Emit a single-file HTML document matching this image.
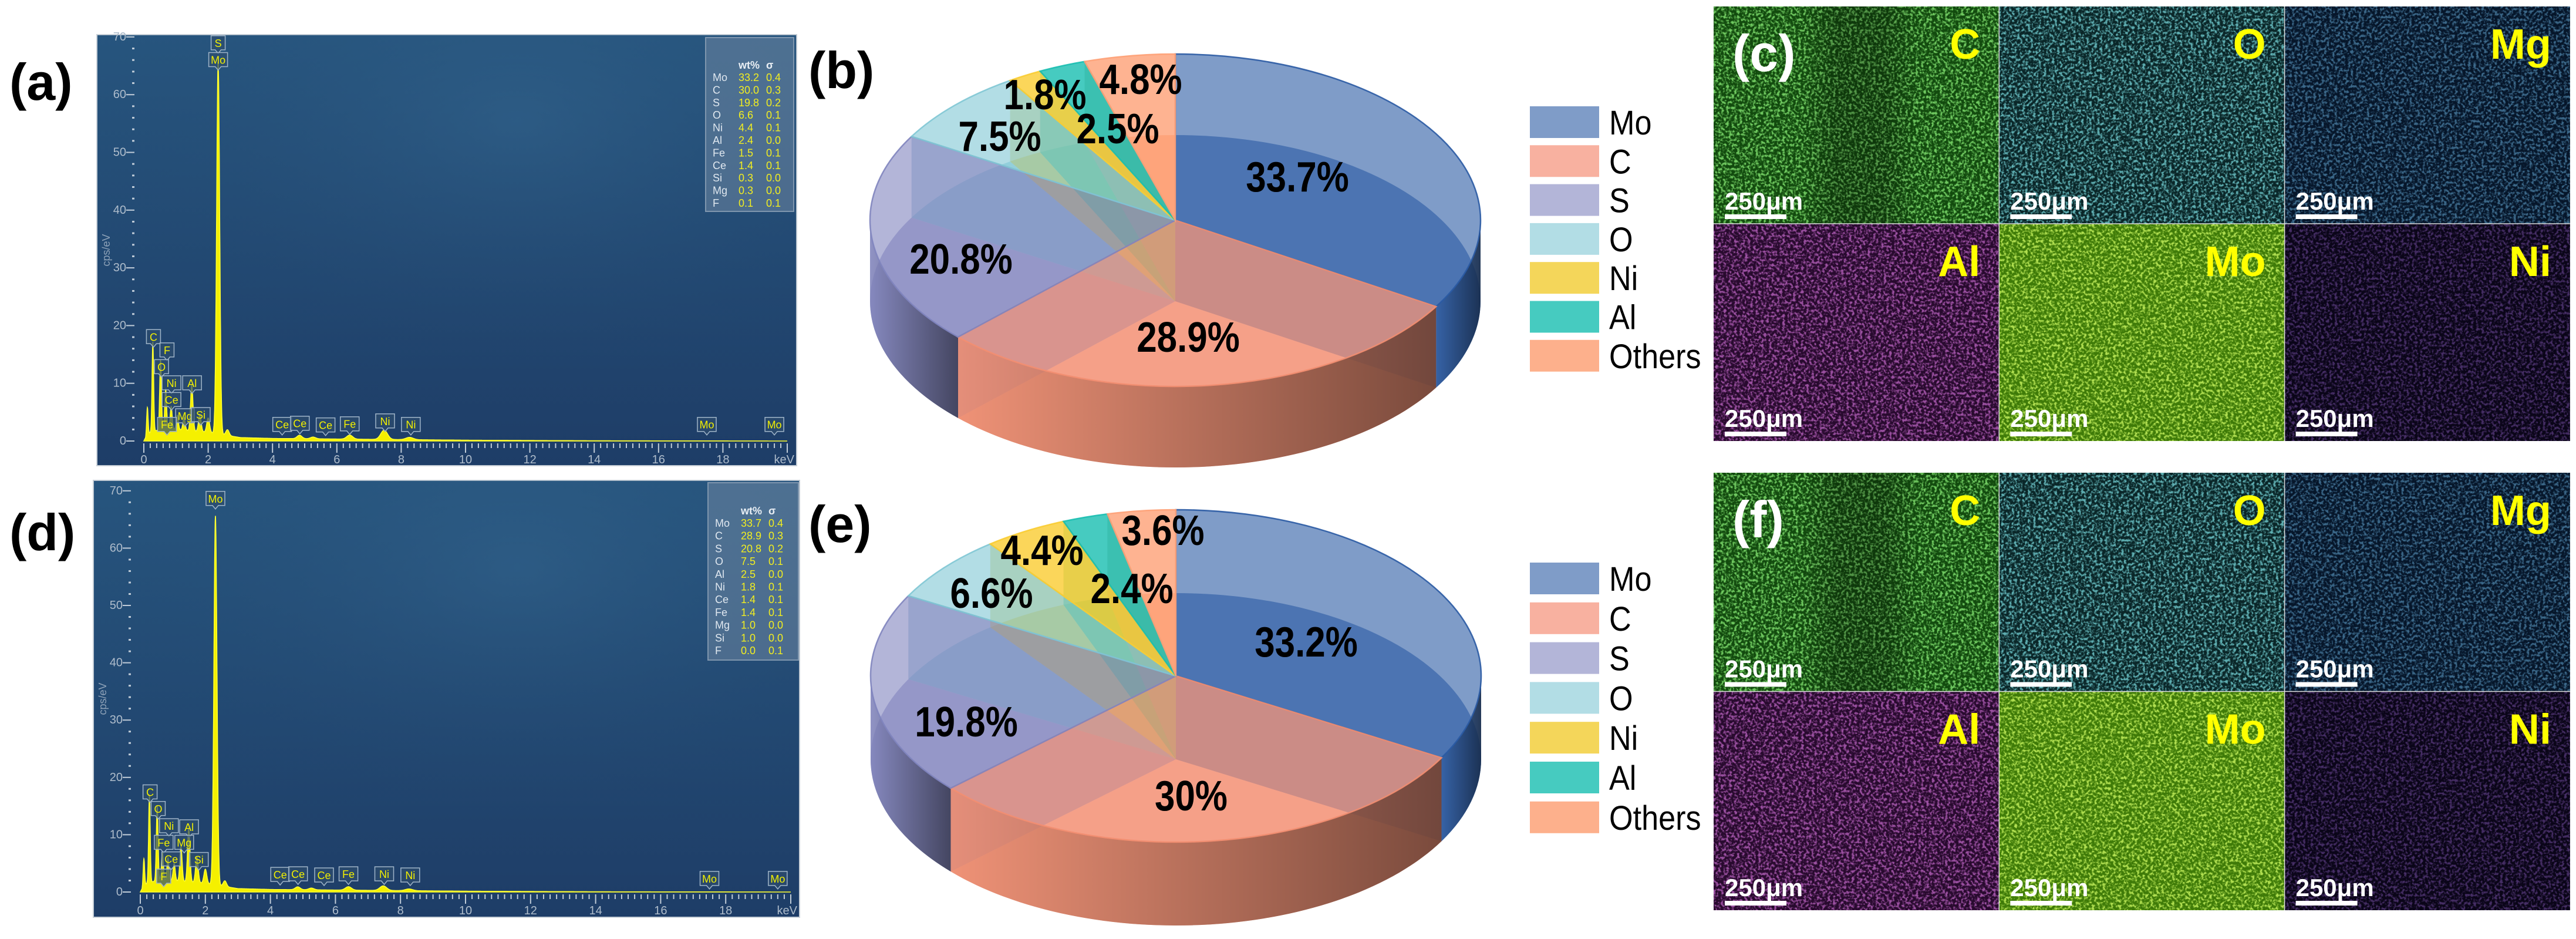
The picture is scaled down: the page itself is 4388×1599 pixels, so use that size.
<!DOCTYPE html>
<html><head><meta charset="utf-8"><style>
html,body{margin:0;padding:0;background:#fff;}
svg{display:block;font-family:"Liberation Sans",Arial,sans-serif;}
</style></head><body>
<svg id="fig" xmlns="http://www.w3.org/2000/svg" width="4388" height="1599" viewBox="0 0 4388 1599">
<defs id="figdefs">
<linearGradient id="specbg" x1="0" y1="0" x2="0" y2="1"><stop offset="0" stop-color="#27567f"/><stop offset="1" stop-color="#1e3d67"/></linearGradient>
<radialGradient id="spechi" cx="0.6" cy="0.2" r="0.7"><stop offset="0" stop-color="#3a6d96" stop-opacity="0.35"/><stop offset="1" stop-color="#1c3a62" stop-opacity="0"/></radialGradient>
<linearGradient id="sideShade" x1="0" y1="0" x2="1" y2="0"><stop offset="0" stop-color="#000" stop-opacity="0.02"/><stop offset="1" stop-color="#000" stop-opacity="0.5"/></linearGradient>
<linearGradient id="bandShade" x1="0" y1="0" x2="1" y2="0"><stop offset="0" stop-color="#000" stop-opacity="0"/><stop offset="0.3" stop-color="#000" stop-opacity="0.25"/><stop offset="0.7" stop-color="#000" stop-opacity="0.25"/><stop offset="1" stop-color="#000" stop-opacity="0"/></linearGradient>
</defs>
<g id="panelA"></g>
<g id="panelD"></g>
<g id="pieB"></g>
<g id="pieE"></g>
<g id="mapsC"></g>
<g id="mapsF"></g>
<text x="16" y="170" font-size="88" font-weight="bold">(a)</text>
<text x="16" y="937" font-size="88" font-weight="bold">(d)</text>
<text x="1377" y="150" font-size="88" font-weight="bold">(b)</text>
<text x="1377" y="923" font-size="88" font-weight="bold">(e)</text>
</svg>
<script>
var pieCats = ["Mo","C","S","O","Ni","Al","Others"];
var pieValsB = [33.7,28.9,20.8,7.5,1.8,2.5,4.8];
var pieValsE = [33.2,30,19.8,6.6,4.4,2.4,3.6];
var pieLabelsB = ["33.7%","28.9%","20.8%","7.5%","1.8%","2.5%","4.8%"];
var pieLabelsE = ["33.2%","30%","19.8%","6.6%","4.4%","2.4%","3.6%"];

var specPeakE_A = [0.11,0.28,0.52,0.68,0.85,1.04,1.25,1.49,1.74,2.0,2.31,2.6,4.84,5.26,6.40,7.47,8.26];
var specPeakH_A = [5,15.5,12,7,4,2.5,2.2,8,3,2.5,64.5,1,0.6,0.3,0.7,1.6,0.4];
var specPeakE_D = [0.11,0.28,0.52,0.68,0.85,1.04,1.25,1.49,1.74,2.0,2.31,2.6,4.84,5.26,6.40,7.47,8.26];
var specPeakH_D = [5,15.3,13,5,4,3,6,9.3,4.5,2.5,64.4,1,0.5,0.3,0.6,0.8,0.3];
var specBgE = [0,0.2,0.5,1,2,3,4,6,8,10,14,20];
var specBgH = [0,1.5,2,2,1.5,0.6,0.45,0.35,0.25,0.15,0.05,0];

var tableElA = ["Mo","C","S","O","Ni","Al","Fe","Ce","Si","Mg","F"];
var tableWtA = ["33.2","30.0","19.8","6.6","4.4","2.4","1.5","1.4","0.3","0.3","0.1"];
var tableSgA = ["0.4","0.3","0.2","0.1","0.1","0.0","0.1","0.1","0.0","0.0","0.1"];
var tableElD = ["Mo","C","S","O","Al","Ni","Ce","Fe","Mg","Si","F"];
var tableWtD = ["33.7","28.9","20.8","7.5","2.5","1.8","1.4","1.4","1.0","1.0","0.0"];
var tableSgD = ["0.4","0.3","0.2","0.1","0.0","0.1","0.1","0.1","0.0","0.0","0.1"];

var markNameA = ["S","Mo","C","F","O","Ni","Al","Ce","Mg","Si","Fe","Ce","Ce","Ce","Fe","Ni","Ni","Mo","Mo"];
var markEA = [2.31,2.31,0.30,0.72,0.55,0.86,1.5,0.86,1.28,1.77,0.72,4.3,4.85,5.65,6.4,7.5,8.3,17.5,19.6];
var markCpsA = [70.2,67.3,19.3,17,14.1,11.3,11.3,8.4,5.6,5.8,4.1,4.1,4.3,4.0,4.2,4.7,4.1,4.1,4.1];
var markNameD = ["Mo","C","O","Ni","Al","Fe","Mg","Ce","Si","F","Ce","Ce","Ce","Fe","Ni","Ni","Mo","Mo"];
var markED = [2.31,0.30,0.55,0.88,1.5,0.72,1.35,0.95,1.8,0.72,4.3,4.85,5.65,6.4,7.5,8.3,17.5,19.6];
var markCpsD = [69.9,18.7,15.8,12.8,12.6,9.9,9.9,7.0,6.9,4.0,4.3,4.4,4.2,4.4,4.4,4.2,3.6,3.6];

var mapNames = ["C","O","Mg","Al","Mo","Ni"];

var SVGNS_FIG="http://www.w3.org/2000/svg";
function mkEl(tag,attrs,parent){var e=document.createElementNS(SVGNS_FIG,tag);for(var k in attrs){e.setAttribute(k,attrs[k]);}if(parent){parent.appendChild(e);}return e;}

function drawSpectrum(g,cfg){
  var bx=cfg.box;
  var r=mkEl('rect',{x:bx[0],y:bx[1],width:bx[2]-bx[0],height:bx[3]-bx[1],fill:'url(#specbg)',stroke:'#c8d0d8','stroke-width':2},g);
  
  
  mkEl('rect',{x:bx[0],y:bx[1],width:bx[2]-bx[0],height:bx[3]-bx[1],fill:'url(#spechi)'},g);
  function X(e){return cfg.x0+e*cfg.kx;}
  function Y(c){return cfg.y0-c*cfg.ky;}
  var i,k,t;
  var ax=mkEl('g',{},g);
  
  
  for(i=0;i<=100;i++){var ev=i*0.2;var major=(i%10===0);
    mkEl('line',{x1:X(ev),x2:X(ev),y1:cfg.y0+4,y2:cfg.y0+(major?20:12),stroke:'#c0ccd8','stroke-width':2},ax);}
  for(var v=0;v<=18;v+=2){t=mkEl('text',{x:X(v),y:cfg.y0+38,'font-size':20,fill:'#aebccb','text-anchor':'middle'},ax);t.textContent=String(v);
    
    }
  t=mkEl('text',{x:bx[2]-4,y:cfg.y0+38,'font-size':20,fill:'#aebccb','text-anchor':'end'},ax);t.textContent='keV';
  
  
  var ay=mkEl('g',{},g);
  
  
  for(var c=0;c<=cfg.ymax;c+=2){var mj=(c%10===0);
    mkEl('line',{x1:cfg.x0-(mj?30:20),x2:cfg.x0-16,y1:Y(c),y2:Y(c),stroke:'#c0ccd8','stroke-width':mj?2:3},ay);}
  for(c=0;c<=cfg.ymax;c+=10){t=mkEl('text',{x:cfg.x0-30,y:Y(c)+6,'font-size':20,fill:'#aebccb','text-anchor':'end'},ay);t.textContent=String(c);
    
    }
  t=mkEl('text',{x:0,y:0,'font-size':18,fill:'#8ea2b8','text-anchor':'middle',transform:'translate('+(bx[0]+22)+','+((bx[1]+bx[3])/2)+') rotate(-90)'},ay);t.textContent='cps/eV';
  
  
  function bg(e){for(var j=1;j<specBgE.length;j++){if(e<=specBgE[j]){var f=(e-specBgE[j-1])/(specBgE[j]-specBgE[j-1]);return specBgH[j-1]+f*(specBgH[j]-specBgH[j-1]);}}return 0;}
  var d='M'+X(0)+','+Y(0);
  for(var e=0.05;e<=20;e+=0.004){var cc=bg(e);
    for(k=0;k<cfg.pe.length;k++){var s=0.022+0.011*cfg.pe[k];cc+=cfg.ph[k]*Math.exp(-(e-cfg.pe[k])*(e-cfg.pe[k])/(2*s*s));}
    d+='L'+X(e).toFixed(1)+','+Y(cc).toFixed(1);}
  d+='L'+X(20)+','+Y(0)+'Z';
  var sp=mkEl('path',{d:d,fill:'#f5f000',stroke:'#ffff30','stroke-width':1.5},g);
  
  
  for(i=0;i<cfg.mn.length;i++){var x=X(cfg.me[i]),y=Y(cfg.mc[i]);var w=cfg.mn[i].length>1?32:24;
    var m=mkEl('g',{},g);
    
    
    mkEl('path',{d:'M'+(x-w/2)+','+y+' h'+w+' v24 h'+(-w/2+5)+' l-5,6 l-5,-6 h'+(-w/2+5)+' Z',fill:'#2d4d6e','fill-opacity':0.7,stroke:'#9fb4c8','stroke-width':1.5},m);
    t=mkEl('text',{x:x,y:y+19,'font-size':18,fill:'#f2f000','text-anchor':'middle'},m);t.textContent=cfg.mn[i];}
  var tb=mkEl('g',{},g);
  
  
  var T=cfg.tab;
  mkEl('rect',{x:T.x,y:T.y,width:T.w,height:T.h,fill:'#6d86a2','fill-opacity':0.55,stroke:'#7f96ae','stroke-width':2},tb);
  t=mkEl('text',{x:T.x+56,y:T.hy,'font-size':18,'font-weight':'bold',fill:'#e8eef4'},tb);t.textContent='wt%';
  t=mkEl('text',{x:T.x+103,y:T.hy,'font-size':18,'font-weight':'bold',fill:'#e8eef4'},tb);t.textContent='\u03c3';
  for(i=0;i<T.el.length;i++){var yy=T.ry+i*T.step;
    t=mkEl('text',{x:T.x+12,y:yy,'font-size':18,fill:'#e0e8f0'},tb);t.textContent=T.el[i];
    t=mkEl('text',{x:T.x+56,y:yy,'font-size':18,fill:'#f2ee20'},tb);t.textContent=T.wt[i];
    t=mkEl('text',{x:T.x+103,y:yy,'font-size':18,fill:'#f2ee20'},tb);t.textContent=T.sg[i];}
}

var pieBase=[[42,90,163],[243,142,113],[128,132,190],[127,198,212],[250,204,49],[24,190,176],[254,160,117]];
var pieAlpha=[0.6,0.6,0.6,0.6,0.8,0.8,0.8];
var legendCol=["#7f9cc8","#f8b1a0","#b3b5d8","#b2dde5","#f4d65a","#46cbc0","#fdb08c"];
function drawPie(g,cfg){
  var cx=cfg.cx,cy=cfg.cy,rx=cfg.rx,ry=cfg.ry,dp=cfg.dp,vals=cfg.vals;
  var tot=0,i,s,t,p,p0,p1,d;
  for(i=0;i<vals.length;i++){tot+=vals[i];}
  function P(a,dy){return [cx+rx*Math.sin(a),cy-ry*Math.cos(a)+(dy||0)];}
  var ang=[0];
  for(i=0;i<vals.length;i++){ang.push(ang[i]+vals[i]/tot*2*Math.PI);}
  function col(j){return 'rgb('+pieBase[j].join(',')+')';}
  function sector(a,b,dy){var q0=P(a,dy),q1=P(b,dy);return 'M'+cx+','+(cy+dy)+'L'+q0[0]+','+q0[1]+'A'+rx+','+ry+' 0 '+(b-a>Math.PI?1:0)+' 1 '+q1[0]+','+q1[1]+'Z';}
  for(i=0;i<vals.length;i++){s=mkEl('path',{d:sector(ang[i],ang[i+1],dp),fill:col(i),'fill-opacity':pieAlpha[i]},g);
    
    }
  for(i=0;i<vals.length;i++){var bnds=[ang[i],ang[i+1]];
    for(var b=0;b<2;b++){p=P(bnds[b],0);
      mkEl('path',{d:'M'+cx+','+cy+'L'+p[0]+','+p[1]+'L'+p[0]+','+(p[1]+dp)+'L'+cx+','+(cy+dp)+'Z',fill:col(i),'fill-opacity':pieAlpha[i]*0.5},g);}}
  for(i=0;i<vals.length;i++){var a0=Math.max(ang[i],Math.PI/2),a1=Math.min(ang[i+1],1.5*Math.PI);
    if(a1<=a0){continue;}
    p0=P(a0,0);p1=P(a1,0);
    d='M'+p0[0]+','+p0[1]+'A'+rx+','+ry+' 0 0 1 '+p1[0]+','+p1[1]+'L'+p1[0]+','+(p1[1]+dp)+'A'+rx+','+ry+' 0 0 0 '+p0[0]+','+(p0[1]+dp)+'Z';
    s=mkEl('path',{d:d,fill:col(i),'fill-opacity':Math.min(1,pieAlpha[i]+0.25)},g);
    
    
    mkEl('path',{d:d,fill:'url(#sideShade)'},g);}
  for(i=0;i<vals.length;i++){s=mkEl('path',{d:sector(ang[i],ang[i+1],0),fill:col(i),'fill-opacity':pieAlpha[i],stroke:col(i),'stroke-width':2.5,'stroke-opacity':0.9},g);
    
    }
  for(i=0;i<vals.length;i++){t=mkEl('text',{x:0,y:0,'font-size':72,'font-weight':'bold','text-anchor':'middle',fill:'#000',transform:'translate('+cfg.lx[i]+','+cfg.ly[i]+') scale(0.86,1)'},g);
    t.textContent=cfg.labels[i];
    
    }
  for(i=0;i<pieCats.length;i++){var y=cfg.legY+i*cfg.legStep;
    var e=mkEl('g',{},g);
    
    
    mkEl('rect',{x:2606,y:y,width:118,height:54,fill:legendCol[i]},e);
    t=mkEl('text',{x:0,y:0,'font-size':58,fill:'#000',transform:'translate(2741,'+(y+48)+') scale(0.9,1)'},e);t.textContent=pieCats[i];}
}

var mapBase=["#124a0e","#0a2628","#06162a","#280a2e","#3e7a08","#0a0518"];
var mapBright=[[0.22,0.75,0.16],[0.20,0.72,0.75],[0.14,0.42,0.70],[0.62,0.16,0.66],[0.52,0.84,0.10],[0.28,0.12,0.56]];
var mapNoiseOp=[0.85,0.75,0.55,0.7,0.9,0.45];
function makeFilters(){
  var defsEl=document.getElementById('figdefs');
  for(var i=0;i<mapBright.length;i++){var c=mapBright[i];
    var f=mkEl('filter',{id:'nz'+i,x:0,y:0,width:1,height:1},defsEl);
    mkEl('feTurbulence',{type:'fractalNoise',baseFrequency:0.22,numOctaves:2,seed:i+3},f);
    mkEl('feColorMatrix',{type:'matrix',values:'0 0 0 0 '+c[0]+' 0 0 0 0 '+c[1]+' 0 0 0 0 '+c[2]+' 4 0 0 0 -1.8'},f);}
}
function drawMaps(g,x0,y0,rowH,tag){
  var colW=486.3,i,t;
  for(i=0;i<6;i++){var ci=i%3,ri=Math.floor(i/3);var x=x0+ci*colW,y=y0+ri*rowH;
    var tile=mkEl('g',{},g);
    
    
    mkEl('rect',{x:x,y:y,width:colW,height:rowH,fill:mapBase[i]},tile);
    mkEl('rect',{x:x,y:y,width:colW,height:rowH,filter:'url(#nz'+i+')',opacity:mapNoiseOp[i]},tile);
    if(i===0){mkEl('rect',{x:x+150,y:y,width:200,height:rowH,fill:'url(#bandShade)'},tile);}
    t=mkEl('text',{x:x+colW-32,y:y+89,'font-size':72,'font-weight':'bold',fill:'#ffff00','text-anchor':'end'},tile);t.textContent=mapNames[i];
    t=mkEl('text',{x:x+19,y:y+rowH-24,'font-size':42,'font-weight':'bold',fill:'#fff'},tile);t.textContent='250\u03bcm';
    mkEl('rect',{x:x+19,y:y+rowH-16,width:105,height:8,fill:'#fff'},tile);}
  mkEl('line',{x1:x0,x2:x0+3*colW,y1:y0+rowH,y2:y0+rowH,stroke:'#ddd','stroke-width':1.5},g);
  for(var k=1;k<3;k++){mkEl('line',{x1:x0+k*colW,x2:x0+k*colW,y1:y0,y2:y0+2*rowH,stroke:'#ddd','stroke-width':1.5},g);}
  t=mkEl('text',{x:x0+32,y:y0+110,'font-size':88,'font-weight':'bold',fill:'#fff'},g);t.textContent=tag;
  
  
}

try{drawSpectrum(document.getElementById('panelA'),{box:[165,59,1357,793],x0:245,kx:54.8,y0:751,ky:9.83,ymax:70,
  pe:specPeakE_A,ph:specPeakH_A,mn:markNameA,me:markEA,mc:markCpsA,
  tab:{x:1202,y:64,w:150,h:296,hy:117,ry:138,step:21.4,el:tableElA,wt:tableWtA,sg:tableSgA}});}catch(err){}
try{drawSpectrum(document.getElementById('panelD'),{box:[159,818,1362,1562],x0:239,kx:55.4,y0:1519,ky:9.76,ymax:70,
  pe:specPeakE_D,ph:specPeakH_D,mn:markNameD,me:markED,mc:markCpsD,
  tab:{x:1206,y:822,w:154,h:302,hy:876,ry:897,step:21.7,el:tableElD,wt:tableWtD,sg:tableSgD}});}catch(err){}
try{drawPie(document.getElementById('pieB'),{cx:2002,cy:375,rx:520,ry:283,dp:138,vals:pieValsB,labels:pieLabelsB,
  lx:[2210,2024,1637,1703,1780,1904,1943],ly:[326,599,466,257,186,244,160],legY:181,legStep:66.3});}catch(err){}
try{drawPie(document.getElementById('pieE'),{cx:2003,cy:1151,rx:520,ry:283,dp:142,vals:pieValsE,labels:pieLabelsE,
  lx:[2225,2029,1646,1689,1775,1928,1981],ly:[1118,1380,1254,1035,962,1027,928],legY:958,legStep:67.8});}catch(err){}
try{makeFilters();}catch(err){}
try{drawMaps(document.getElementById('mapsC'),2919,11,370,'(c)');}catch(err){}
try{drawMaps(document.getElementById('mapsF'),2919,805,372.5,'(f)');}catch(err){}
</script>
</body></html>
